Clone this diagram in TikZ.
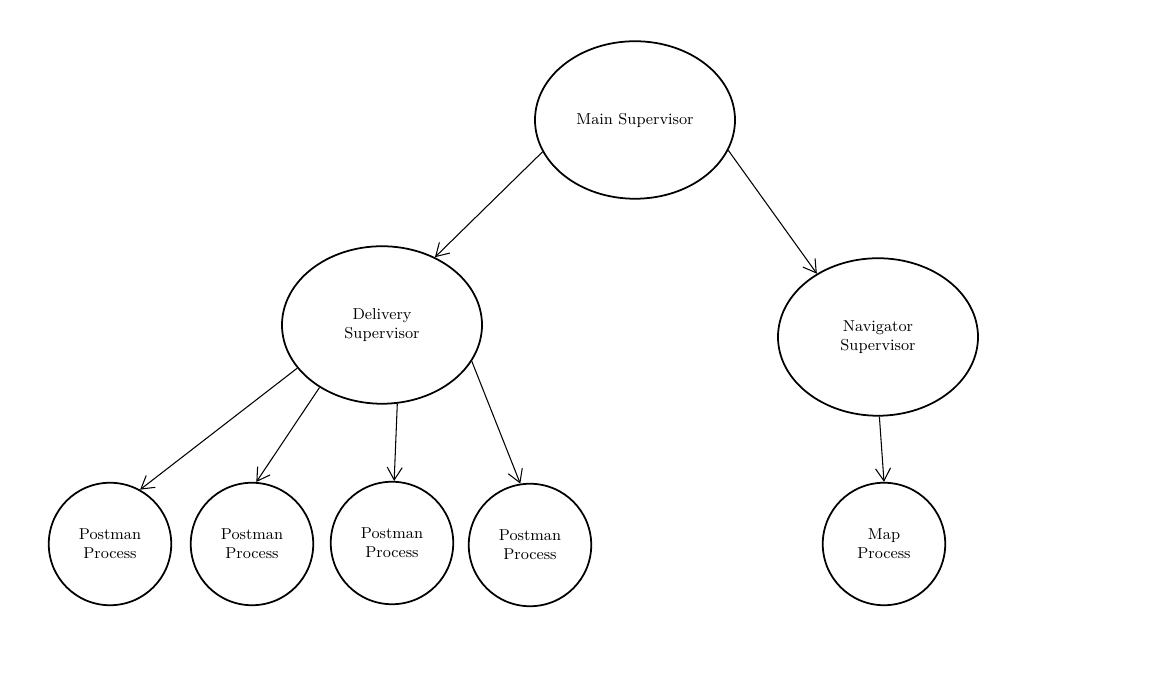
\documentclass[tikz,border=0pt]{standalone}
\usepackage{tikz}
\usetikzlibrary{arrows.meta,shapes.geometric}
\begin{document}
\begin{tikzpicture}[->,>={Straight Barb[length=2.5mm,width=3mm]},semithick,
  sup/.style={shape=ellipse,draw=black,line width=1pt,minimum width=4cm,minimum height=3.15cm,align=center,font=\small},
  proc/.style={shape=circle,draw=black,line width=1pt,minimum size=2.45cm,align=center,font=\small}]
                \useasboundingbox (0,0) rectangle (23.02,13.46);
                \node[sup](main)at(12.7, 11.06){Main Supervisor};
                \node[sup](deliv)at(7.64, 6.96){Delivery\\Supervisor};
                \node[sup](navig)at(17.56, 6.72){Navigator\\Supervisor};
                \node[proc](p1)at(2.2, 2.58){Postman\\Process};
                \node[proc](p2)at(5.04, 2.58){Postman\\Process};
                \node[proc](p3)at(7.84, 2.6){Postman\\Process};
                \node[proc](p4)at(10.6, 2.56){Postman\\Process};
                \node[proc](map)at(17.68, 2.58){Map\\Process};
                \path[](main.199) edge (deliv.52)
                (main.342) edge (navig.134)
                (deliv.207) edge (p1.61)
                (deliv.225) edge (p2.86)
                (deliv.281) edge (p3.88)
                (deliv.338) edge (p4.99)
                (navig.271) edge (map.90);
            \end{tikzpicture}
\end{document}
